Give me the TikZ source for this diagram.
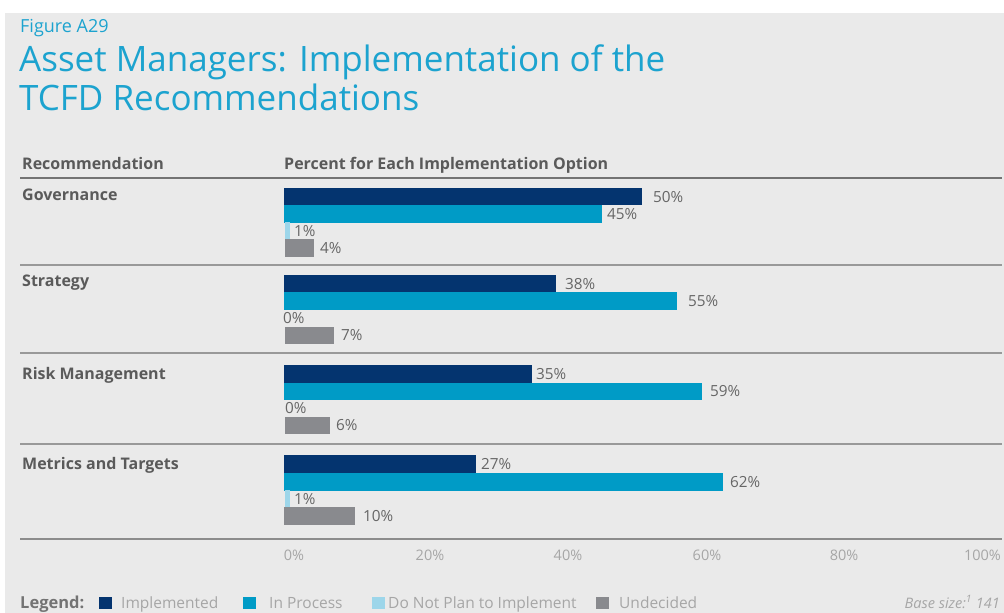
\documentclass[tikz,border=0pt]{standalone}
\usepackage{fontspec}
\setmainfont{Open Sans}
\definecolor{bgc}{HTML}{EAEAEA}
\definecolor{titlec}{HTML}{1CA3CF}
\definecolor{navyc}{HTML}{04346F}
\definecolor{cyanc}{HTML}{009BC6}
\definecolor{lightc}{HTML}{9DD6EA}
\definecolor{greyc}{HTML}{898A8E}
\definecolor{headc}{HTML}{5A5A5A}
\definecolor{valc}{HTML}{666666}
\definecolor{axisc}{HTML}{A6A6A6}
\newcommand{\mybar}[7]{%
  \fill[#2] (#3,#1) rectangle (#4,#1+17.5);
  \node[val] (#7) at (#5,#1+8.75) {#6};}
\begin{document}
\begin{tikzpicture}[x=1bp,y=-1bp,
  val/.style={anchor=west,inner sep=0pt,text=valc,font=\fontsize{15.3bp}{17bp}\selectfont},
  head/.style={anchor=base west,inner sep=0pt,text=headc,font=\fontsize{16bp}{18bp}\selectfont\bfseries},
  axl/.style={anchor=base,inner sep=0pt,text=axisc,font=\fontsize{14.5bp}{17bp}\selectfont},
  leg/.style={anchor=base west,inner sep=0pt,text=axisc,font=\fontsize{15.5bp}{17bp}\selectfont},
  sep/.style={draw=black!40,line width=1.3bp},
  ]
\useasboundingbox (0,0) rectangle (1004,613);
\fill[white] (0,0) rectangle (1004,613);
\fill[bgc] (5,13) rectangle (1004,613);
% title
\node[anchor=base west,inner sep=0pt,text=titlec,font=\fontsize{18bp}{20bp}\selectfont] (fig) at (20,32.5) {Figure A29};
\node[anchor=base west,inner sep=0pt,text=titlec,font=\fontsize{35bp}{40bp}\selectfont] (t1) at (19,72) {Asset Managers: Implementation of the};
\node[anchor=base west,inner sep=0pt,text=titlec,font=\fontsize{35bp}{40bp}\selectfont] (t2) at (19,111) {TCFD Recommendations};
% headers
\node[head] (h1) at (22,170) {Recommendation};
\node[head] (h2) at (284,170) {Percent for Each Implementation Option};
\draw[draw=black!55,line width=1.3bp] (20,178) -- (1002,178);
% row labels
\node[head] (r1) at (22,201) {Governance};
\node[head] (r2) at (22,287) {Strategy};
\node[head] (r3) at (22,379) {Risk Management};
\node[head] (r4) at (22,469) {Metrics and Targets};
% separators
\draw[sep] (20,265) -- (1002,265);
\draw[sep] (20,353) -- (1002,353);
\draw[sep] (20,444) -- (1002,444);
\draw[draw=black!45,line width=1.3bp] (20,539) -- (1002,539);
% Governance
\mybar{188}{navyc}{284}{642}{653}{50\%}{g1}
\mybar{205.5}{cyanc}{284}{602}{607}{45\%}{g2}
\mybar{222.5}{lightc}{285}{289.5}{294}{1\%}{g3}
\mybar{239.5}{greyc}{285}{314}{320}{4\%}{g4}
% Strategy
\mybar{275}{navyc}{284}{556}{565}{38\%}{s1}
\mybar{292}{cyanc}{284}{677}{688}{55\%}{s2}
\node[val] (s3) at (283,318) {0\%};
\mybar{326.5}{greyc}{285}{334}{341}{7\%}{s4}
% Risk
\mybar{365}{navyc}{284}{532}{536}{35\%}{k1}
\mybar{382.5}{cyanc}{284}{702}{710}{59\%}{k2}
\node[val] (k3) at (285,408) {0\%};
\mybar{416.5}{greyc}{285}{330}{336}{6\%}{k4}
% Metrics
\mybar{455}{navyc}{284}{476}{481}{27\%}{m1}
\mybar{473}{cyanc}{284}{723}{730}{62\%}{m2}
\mybar{490}{lightc}{285}{289.5}{294}{1\%}{m3}
\mybar{507}{greyc}{284}{355}{363}{10\%}{m4}
% axis
\node[axl] (a0) at (294,560) {0\%};
\node[axl] (a20) at (430,560) {20\%};
\node[axl] (a40) at (568,560) {40\%};
\node[axl] (a60) at (707,560) {60\%};
\node[axl] (a80) at (844,560) {80\%};
\node[axl,anchor=base east] (a100) at (1001,560) {100\%};
% legend
\node[head,text=black!55,font=\fontsize{16.5bp}{18bp}\selectfont\bfseries] (lg) at (20,608) {Legend:};
\fill[navyc] (99,596.5) rectangle (112,609);
\node[leg] (l1) at (121,608) {Implemented};
\fill[cyanc] (243,596.5) rectangle (256,609);
\node[leg] (l2) at (269,608) {In Process};
\fill[lightc] (372,596.5) rectangle (385,609);
\node[leg] (l3) at (388,608) {Do Not Plan to Implement};
\fill[greyc] (596,596.5) rectangle (609,609);
\node[leg] (l4) at (619,608) {Undecided};
\node[leg,anchor=base east,font=\fontsize{14.5bp}{17bp}\selectfont\itshape] (bs) at (1000,608) {Base size:\textsuperscript{1} 141};
\end{tikzpicture}
\end{document}
